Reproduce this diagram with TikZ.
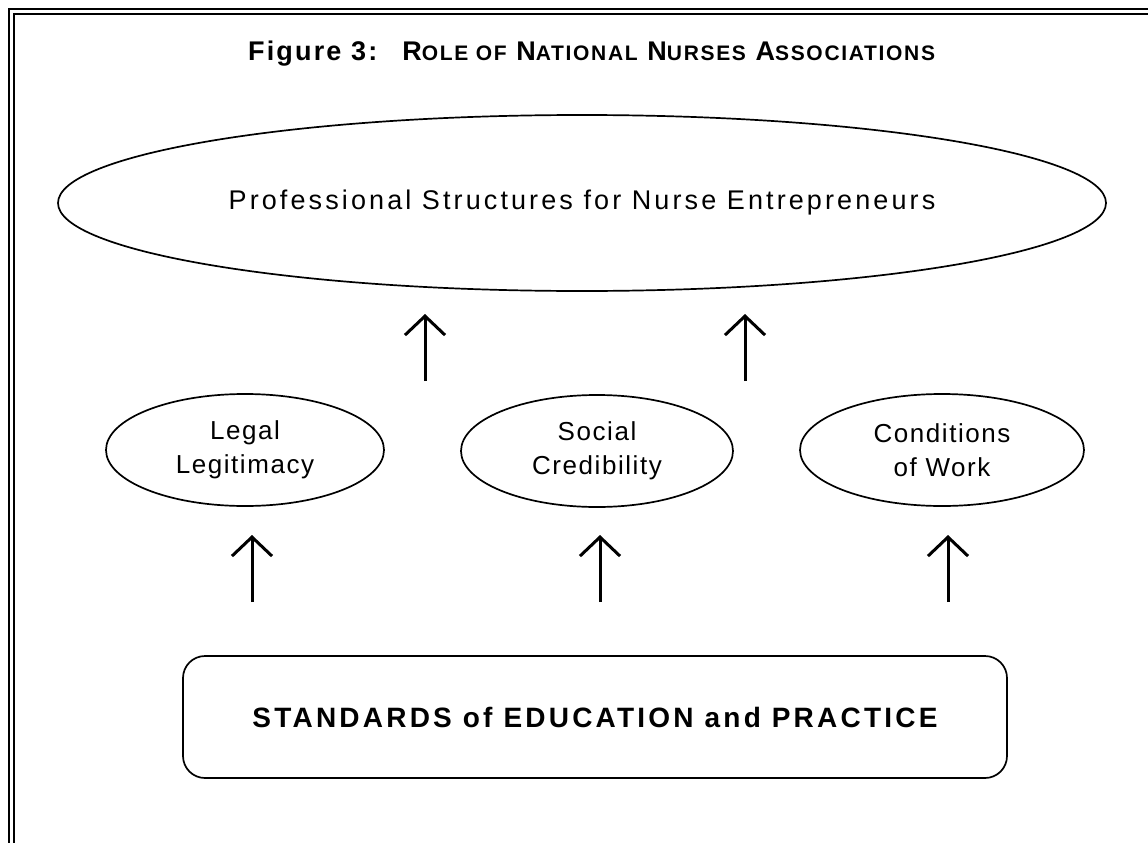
\documentclass[tikz,border=0pt]{standalone}
\usepackage{fontspec}
\setmainfont{Liberation Sans}
\newfontfamily\spaced[LetterSpace=6]{Liberation Sans}
\newfontfamily\spacedwide[LetterSpace=11.5]{Liberation Sans}
\newfontfamily\spacedtitle[LetterSpace=8]{Liberation Sans}
\usetikzlibrary{shapes.geometric,arrows.meta}
\newcommand{\smallcx}[1]{{\fontsize{21}{24}\selectfont #1}}
\begin{document}
\begin{tikzpicture}[x=1pt,y=-1pt,
  border/.style={line width=2pt},
  oval/.style={ellipse, draw, line width=1.7pt, inner sep=0pt, align=center},
  midtext/.style={font=\spaced\fontsize{26}{34}\selectfont},
  uparrow/.style={line width=3pt, -{Straight Barb[length=19pt,width=40pt,line width=3pt]}},
  stdbox/.style={draw, line width=1.7pt, rounded corners=22pt, minimum width=824pt, minimum height=122pt, inner sep=0pt}
]
\useasboundingbox (0,0) rectangle (1148,843);
% double border
\draw[border] (1148,9.5) -- (9,9.5) -- (9,843);
\draw[border] (1148,14.5) -- (14,14.5) -- (14,843);
% title
\node[anchor=west, inner sep=0pt, font=\spacedtitle\bfseries\fontsize{27}{30}\selectfont] (title) at (248,54)
  {Figure 3:\hspace{0.45em} R\smallcx{OLE OF} N\smallcx{ATIONAL} N\smallcx{URSES} A\smallcx{SSOCIATIONS}};
% big ellipse
\node[oval, minimum width=1048pt, minimum height=176pt, font=\spacedwide\fontsize{27}{30}\selectfont] (prof) at (582,203)
  {Professional Structures for Nurse Entrepreneurs};
% middle ellipses
\node[oval, midtext, minimum width=278pt, minimum height=112pt] (legal) at (245,450)
  {Legal\\Legitimacy};
\node[oval, midtext, minimum width=272pt, minimum height=112pt] (social) at (597,451)
  {Social\\Credibility};
\node[oval, midtext, minimum width=284pt, minimum height=112pt] (cond) at (942,450)
  {Conditions\\of Work};
% standards box
\node[stdbox, font=\spacedwide\bfseries\fontsize{28}{32}\selectfont] (std) at (595,717)
  {STANDARDS of EDUCATION and PRACTICE};
% upper arrows
\coordinate (u1s) at (425,381); \coordinate (u1e) at (425,314);
\coordinate (u2s) at (745,381); \coordinate (u2e) at (745,314);
\draw[uparrow] (u1s) -- (u1e);
\draw[uparrow] (u2s) -- (u2e);
% lower arrows
\coordinate (l1s) at (252,602); \coordinate (l1e) at (252,535);
\coordinate (l2s) at (600,602); \coordinate (l2e) at (600,535);
\coordinate (l3s) at (948,602); \coordinate (l3e) at (948,535);
\draw[uparrow] (l1s) -- (l1e);
\draw[uparrow] (l2s) -- (l2e);
\draw[uparrow] (l3s) -- (l3e);
\end{tikzpicture}
\end{document}
